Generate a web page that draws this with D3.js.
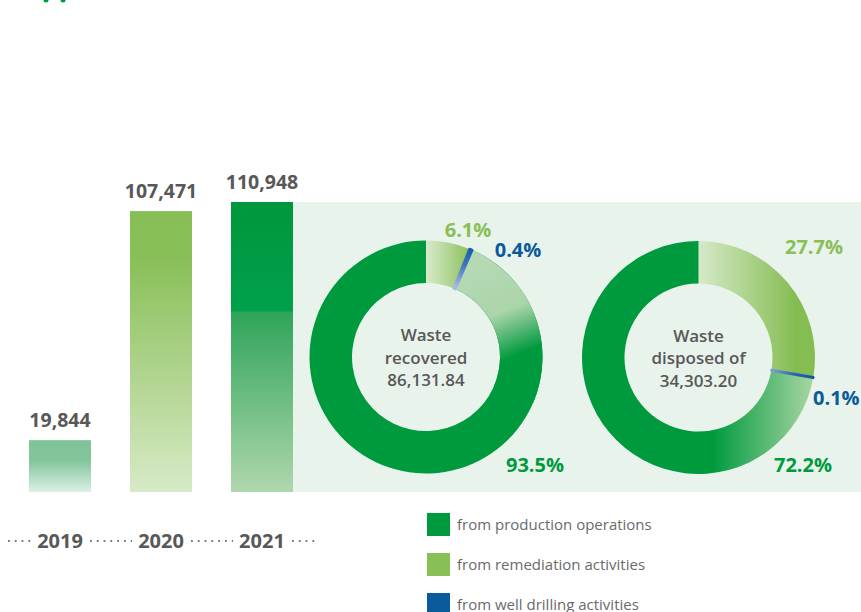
<!DOCTYPE html>
<html>
<head>
<meta charset="utf-8">
<script src="https://cdn.jsdelivr.net/npm/d3@7"></script>
<style>
  html, body { margin: 0; padding: 0; background: #ffffff; }
  svg { display: block; font-family: "Open Sans", "Noto Sans", sans-serif; }
</style>
</head>
<body>
<svg id="chart" width="861" height="612"></svg>
<script>
// Total waste generated per year, tonnes
const years = ["2019", "2020", "2021"];
const totals = [19844, 107471, 110948];

// Waste sources (legend order)
const sources = ["from production operations", "from remediation activities", "from well drilling activities"];
const sourceKeys = ["production", "remediation", "drilling"];
const sourceColors = ["#009a3e", "#88bf56", "#0a5a9c"];

// 2021 breakdown by source, % (production, remediation, drilling)
const recoveredShares = [93.5, 6.1, 0.4];
const disposedShares = [72.2, 27.7, 0.1];

// Donut centre captions
const donutTitles = [["Waste", "recovered"], ["Waste", "disposed of"]];
const donutTotals = ["86,131.84", "34,303.20"];

// Clockwise drawing order from twelve o'clock
const sliceOrder = ["remediation", "drilling", "production"];

const svg = d3.select("#chart");
const defs = svg.append("defs");
const grey = "#585858";

function linearGradient(id, attrs, stops) {
  const g = defs.append("linearGradient").attr("id", id);
  Object.entries(attrs).forEach(([k, v]) => g.attr(k, v));
  stops.forEach(([o, c]) => g.append("stop").attr("offset", o).attr("stop-color", c));
  return `url(#${id})`;
}
// gradient in a donut's own (centred) coordinates
function localGradient(id, x1, y1, x2, y2, stops) {
  return linearGradient(id, { gradientUnits: "userSpaceOnUse", x1, y1, x2, y2 }, stops);
}

// ---------- bars ----------
const baseline = 492;
const x = d3.scaleBand().domain(years).range([29, 293]).paddingInner(0.386).paddingOuter(0);
const y = d3.scaleLinear().domain([0, d3.max(totals)]).range([baseline, 202]);

const barFills = [
  linearGradient("bar2019", { x1: 0, y1: 0, x2: 0, y2: 1 },
    [[0, "#80c399"], [0.38, "#82c49b"], [1, "#dcefe3"]]),
  linearGradient("bar2020", { x1: 0, y1: 0, x2: 0, y2: 1 },
    [[0, "#87be55"], [0.17, "#89bf58"], [1, "#d7eac6"]]),
  linearGradient("bar2021", { x1: 0, y1: 0, x2: 0, y2: 1 },
    [[0, "#00963c"], [0.375, "#00a14c"], [0.38, "#2fa459"], [1, "#afd7ad"]])
];

// light panel behind the donuts, starting at the tallest bar
svg.append("rect")
  .attr("x", x("2021") + x.bandwidth()).attr("y", y(d3.max(totals)))
  .attr("width", 861 - (x("2021") + x.bandwidth()))
  .attr("height", baseline - y(d3.max(totals)))
  .attr("fill", "#e8f3eb");

svg.append("g").selectAll("rect")
  .data(years)
  .join("rect")
  .attr("x", d => x(d))
  .attr("y", (d, i) => y(totals[i]))
  .attr("width", x.bandwidth())
  .attr("height", (d, i) => baseline - y(totals[i]))
  .attr("fill", (d, i) => barFills[i]);

svg.append("g").selectAll("text")
  .data(years)
  .join("text")
  .attr("x", d => x(d) + x.bandwidth() / 2)
  .attr("y", (d, i) => y(totals[i]) - 13)
  .attr("text-anchor", "middle")
  .attr("font-size", 19.5)
  .attr("font-weight", 700)
  .attr("fill", grey)
  .text((d, i) => d3.format(",")(totals[i]));

// year axis with dotted leaders
const yearY = 548;
svg.append("g").selectAll("text")
  .data(years)
  .join("text")
  .attr("x", d => x(d) + x.bandwidth() / 2)
  .attr("y", yearY)
  .attr("text-anchor", "middle")
  .attr("font-size", 20)
  .attr("font-weight", 700)
  .attr("fill", grey)
  .text(d => d);

const leaderSpans = [[8, 31]];
years.forEach((d, i) => {
  const right = x(d) + x.bandwidth() / 2 + 30;
  const next = i < years.length - 1 ? x(years[i + 1]) + x.bandwidth() / 2 - 29 : right + 24;
  leaderSpans.push([right, next]);
});
svg.append("g").selectAll("line")
  .data(leaderSpans)
  .join("line")
  .attr("x1", d => d[0]).attr("x2", d => d[1])
  .attr("y1", yearY - 7).attr("y2", yearY - 7)
  .attr("stroke", "#777")
  .attr("stroke-width", 1.8)
  .attr("stroke-dasharray", "1.8 5");

// ---------- donuts ----------
const outerR = 116.5, innerR = 74;
const pie = d3.pie().sort(null).value(d => d.value);
const arc = d3.arc().innerRadius(innerR).outerRadius(outerR);

const donuts = [
  {
    cx: 426, cy: 357, shares: recoveredShares, title: donutTitles[0], total: donutTotals[0],
    fills: {
      remediation: localGradient("recRem", 0, 0, 48, 0,
        [[0, "#d8eacb"], [1, "#86bd53"]]),
      drilling: localGradient("recDri", 36, -67, 58, -108,
        [[0, "#a6b8e4"], [0.5, "#3f74c0"], [1, "#0b55a0"]]),
      production: "#009a3e"
    },
    // pale sheen over the first part of the production slice
    sheen: {
      span: Math.PI / 2,
      fill: localGradient("recSheen", 50, -90, 90, 10,
        [[0, "#b4d9b3"], [0.48, "#abd5aa"], [0.9, "#009a3e"], [1, "#009a3e"]])
    },
    labels: { remediation: [468, 237, "middle"], drilling: [518, 257, "middle"], production: [535, 472, "middle"] }
  },
  {
    cx: 698.5, cy: 357.5, shares: disposedShares, title: donutTitles[1], total: donutTotals[1],
    fills: {
      remediation: localGradient("disRem", 0, 0, 96, 0,
        [[0, "#d6e9c9"], [1, "#86bd53"]]),
      drilling: localGradient("disDri", 73, 14, 115, 26,
        [[0, "#7f9fd6"], [0.5, "#2e66b4"], [1, "#0b55a0"]]),
      production: localGradient("disPro", 117, 0, 14, 0,
        [[0, "#abd7a5"], [1, "#009a3e"]])
    },
    labels: { remediation: [814, 254, "middle"], drilling: [813, 405, "start"], production: [803, 472, "middle"] }
  }
];

donuts.forEach(dn => {
  const data = sliceOrder.map(k => ({ key: k, value: dn.shares[sourceKeys.indexOf(k)] }));
  const arcs = pie(data);
  const g = svg.append("g").attr("transform", `translate(${dn.cx},${dn.cy})`);

  const slices = g.selectAll("path.slice")
    .data(arcs)
    .join("path")
    .attr("class", "slice")
    .attr("d", arc)
    .attr("fill", d => dn.fills[d.data.key])
    .attr("stroke", d => d.data.key === "drilling" ? dn.fills.drilling : "none")
    .attr("stroke-width", d => d.data.key === "drilling" ? 2.5 : 0)
    .attr("stroke-linejoin", "round");

  if (dn.sheen) {
    const p = arcs.find(a => a.data.key === "production");
    g.append("path")
      .attr("d", arc({ startAngle: p.startAngle, endAngle: Math.min(p.endAngle, p.startAngle + dn.sheen.span) }))
      .attr("fill", dn.sheen.fill);
  }
  // keep the thin drilling slice on top
  slices.filter(d => d.data.key === "drilling").raise();

  // centre caption
  const cap = g.append("text")
    .attr("text-anchor", "middle")
    .attr("font-size", 17)
    .attr("font-weight", 600)
    .attr("fill", grey);
  [...dn.title, dn.total].forEach((t, i) => {
    cap.append("tspan").attr("x", 0).attr("y", -16 + i * 22.5).text(t);
  });

  // percentage labels
  svg.append("g").selectAll("text")
    .data(data)
    .join("text")
    .attr("x", d => dn.labels[d.key][0])
    .attr("y", d => dn.labels[d.key][1])
    .attr("text-anchor", d => dn.labels[d.key][2])
    .attr("font-size", 20)
    .attr("font-weight", 700)
    .attr("fill", d => sourceColors[sourceKeys.indexOf(d.key)])
    .text(d => d3.format(".1f")(d.value) + "%");
});

// ---------- legend ----------
const legend = svg.append("g").attr("transform", "translate(427,513)");
const item = legend.selectAll("g")
  .data(sources)
  .join("g")
  .attr("transform", (d, i) => `translate(0,${i * 40})`);
item.append("rect")
  .attr("width", 23).attr("height", 23)
  .attr("fill", (d, i) => sourceColors[i]);
item.append("text")
  .attr("x", 30).attr("y", 17)
  .attr("font-size", 15)
  .attr("fill", "#6a6a6a")
  .text(d => d);

// small green marks along the top edge
svg.append("g").selectAll("circle")
  .data([46, 63])
  .join("circle")
  .attr("cx", d => d).attr("cy", 0).attr("r", 2.5)
  .attr("fill", "#009a3e");
</script>
</body>
</html>
